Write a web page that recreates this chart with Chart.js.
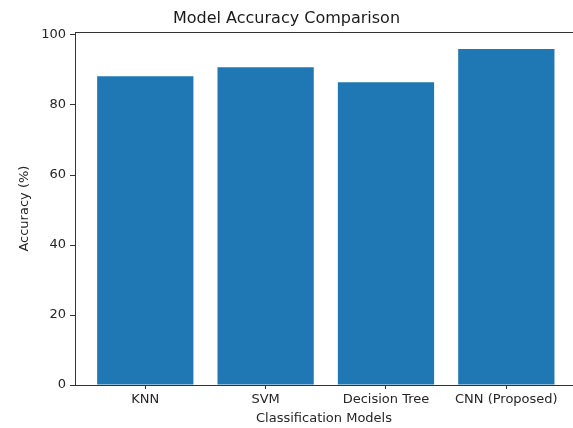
<!DOCTYPE html>
<html>
<head>
<meta charset="utf-8">
<script src="https://cdn.jsdelivr.net/npm/chart.js@4"></script>
<style>
  html, body { margin: 0; padding: 0; background: #fff; }
  #wrap { width: 573px; height: 428px; }
</style>
</head>
<body>
<div id="wrap"><canvas id="accuracy_chart" width="573" height="428"></canvas></div>
<script>
// model names and accuracy values (%)
var models = ["KNN", "SVM", "Decision Tree", "CNN (Proposed)"];
var accuracy = [88.2, 90.8, 86.5, 96.0];
var yTicks = [0, 20, 40, 60, 80, 100];

var barColor = "#1f77b4";
var inkColor = "#262626";

// bar points at positions 0..3 on a linear x axis (like matplotlib)
var points = [];
for (var i = 0; i < models.length; i++) {
  points.push({ x: i, y: accuracy[i] });
}

// top spine of the axes box
var frame = {
  id: "frame",
  afterDraw: function (chart) {
    var a = chart.chartArea;
    var ctx = chart.ctx;
    ctx.save();
    ctx.strokeStyle = "#333";
    ctx.lineWidth = 1;
    ctx.beginPath();
    ctx.moveTo(a.left, Math.round(a.top) + 0.5);
    ctx.lineTo(a.right, Math.round(a.top) + 0.5);
    ctx.stroke();
    ctx.restore();
  }
};

Chart.defaults.font.family = "'DejaVu Sans', sans-serif";
Chart.defaults.color = inkColor;

new Chart(document.getElementById("accuracy_chart"), {
  type: "bar",
  data: {
    datasets: [
      {
        label: "Accuracy",
        data: points,
        backgroundColor: barColor,
        borderWidth: 0,
        barPercentage: 0.8,
        categoryPercentage: 1.0
      }
    ]
  },
  options: {
    responsive: false,
    devicePixelRatio: 1,
    animation: false,
    layout: { padding: { left: 0, right: 0, top: 0, bottom: 0 } },
    scales: {
      x: {
        type: "linear",
        offset: false,
        min: -0.584,
        max: 3.554,
        afterBuildTicks: function (scale) {
          scale.ticks = models.map(function (m, i) { return { value: i }; });
        },
        afterFit: function (scale) { scale.height = 43; },
        ticks: {
          autoSkip: false,
          maxRotation: 0,
          padding: 3,
          font: { size: 13 },
          callback: function (value) { return models[value]; }
        },
        grid: {
          offset: false,
          drawOnChartArea: false,
          drawTicks: true,
          tickLength: 4,
          tickColor: "#333"
        },
        border: { color: "#333", width: 1 },
        title: {
          display: true,
          text: "Classification Models",
          font: { size: 13 },
          padding: { top: 0, bottom: 2 }
        }
      },
      y: {
        min: 0,
        max: 100.8,
        afterBuildTicks: function (scale) {
          scale.ticks = yTicks.map(function (v) { return { value: v }; });
        },
        afterFit: function (scale) { scale.width = 75; },
        ticks: {
          padding: 4,
          font: { size: 13 }
        },
        grid: {
          drawOnChartArea: false,
          drawTicks: true,
          tickLength: 5,
          tickColor: "#333"
        },
        border: { color: "#333", width: 1 },
        title: {
          display: true,
          text: "Accuracy (%)",
          font: { size: 13 },
          padding: { top: 17, bottom: 0 }
        }
      }
    },
    plugins: {
      legend: { display: false },
      tooltip: { enabled: false },
      title: {
        display: true,
        text: "Model Accuracy Comparison",
        color: "#1a1a1a",
        font: { size: 16, weight: "normal" },
        padding: { top: 9, bottom: 4 }
      }
    }
  },
  plugins: [frame]
});
</script>
</body>
</html>
